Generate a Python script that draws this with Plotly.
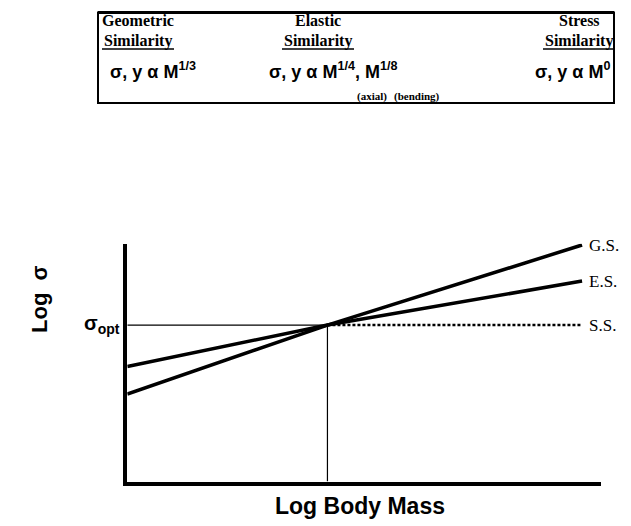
import plotly.graph_objects as go

W, H = 631, 526

# ---- data (log body mass vs log stress, arbitrary units) ----
log_mass = [0.0, 0.4225, 0.960]
gs_stress = [0.368, 0.658, 0.9945]   # geometric similarity
es_stress = [0.484, 0.658, 0.843]    # elastic similarity
ss_mass = [0.4225, 0.960]
ss_stress = [0.658, 0.658]           # stress similarity
sigma_opt = 0.658
mass_opt = 0.4225

curve_labels = ["G.S.", "E.S.", "S.S."]
headers = ["Geometric", "Elastic", "Stress"]
subheader = "Similarity"
formulas = ["σ, y α M<sup>1/3</sup>", "σ, y α M<sup>1/4</sup>, M<sup>1/8</sup>", "σ, y α M<sup>0</sup>"]
notes = ["(axial)", "(bending)"]


def px(x):
    return x / W


def py(y):
    return 1 - y / H


fig = go.Figure()
line_style = dict(color="black", width=3.5)
fig.add_trace(go.Scatter(x=log_mass, y=gs_stress, mode="lines", line=line_style, hoverinfo="skip"))
fig.add_trace(go.Scatter(x=log_mass, y=es_stress, mode="lines", line=line_style, hoverinfo="skip"))
fig.add_trace(go.Scatter(x=ss_mass, y=ss_stress, mode="lines",
                         line=dict(color="black", width=2.5, dash="3px,2px"), hoverinfo="skip"))
# reference lines
fig.add_trace(go.Scatter(x=[0, mass_opt], y=[sigma_opt, sigma_opt], mode="lines",
                         line=dict(color="black", width=1.2), hoverinfo="skip"))
fig.add_trace(go.Scatter(x=[mass_opt, mass_opt], y=[0, sigma_opt], mode="lines",
                         line=dict(color="black", width=1.2), hoverinfo="skip"))

serif = "Liberation Serif"
sans = "Liberation Sans"
ann = []
# curve labels at right end
for lab, yv in zip(curve_labels, [gs_stress[-1], es_stress[-1], ss_stress[-1]]):
    ann.append(dict(x=log_mass[-1], y=yv, xref="x", yref="y", text=lab, showarrow=False,
                    xanchor="left", yanchor="middle", xshift=5,
                    font=dict(family=serif, size=17, color="black")))
# sigma_opt label
ann.append(dict(x=0, y=sigma_opt, xref="x", yref="y",
                text="<b>σ<sub>opt</sub></b>", showarrow=False,
                xanchor="right", yanchor="middle", xshift=-5, yshift=1,
                font=dict(family=sans, size=20, color="black")))
# axis titles
ann.append(dict(x=px(31), y=py(291), xref="paper", yref="paper", text="<b>Log  σ</b>", textangle=-90,
                xanchor="center", yanchor="middle",
                showarrow=False, font=dict(family=sans, size=22, color="black")))
ann.append(dict(x=px(352), y=py(498), xref="paper", yref="paper", text="<b>Log Body Mass</b>",
                xanchor="center", yanchor="middle",
                showarrow=False, font=dict(family=sans, size=23, color="black")))

# table
col_x = [130, 310, 571]
form_x = [145, 325, 564]
for cx, h in zip(col_x, headers):
    ann.append(dict(x=px(cx), y=py(12.5), xref="paper", yref="paper", text="<b>" + h + "</b>",
                    xanchor="center", yanchor="middle",
                    showarrow=False, font=dict(family=serif, size=16, color="black")))
    ann.append(dict(x=px(cx), y=py(32.5), xref="paper", yref="paper", text="<b>" + subheader + "</b>",
                    xanchor="center", yanchor="middle",
                    showarrow=False, font=dict(family=serif, size=16, color="black")))
for fx, f in zip(form_x, formulas):
    ann.append(dict(x=px(fx), y=py(63), xref="paper", yref="paper", text="<b>" + f + "</b>",
                    xanchor="center", yanchor="middle",
                    showarrow=False, font=dict(family=sans, size=18, color="black")))
for nx, n in zip([364, 409], notes):
    ann.append(dict(x=px(nx), y=py(89), xref="paper", yref="paper", text="<b>" + n + "</b>",
                    xanchor="center", yanchor="middle",
                    showarrow=False, font=dict(family=serif, size=11, color="black")))

shapes = [dict(type="rect", xref="paper", yref="paper", x0=px(90), x1=px(606), y0=py(95), y1=py(4.5),
               line=dict(color="black", width=2)),
          dict(type="line", xref="paper", yref="paper", x0=px(90), x1=px(606), y0=py(4.5), y1=py(4.5),
               line=dict(color="black", width=3))]
for cx in col_x:
    shapes.append(dict(type="line", xref="paper", yref="paper", x0=px(cx - 36), x1=px(cx + 36),
                       y0=py(41), y1=py(41), line=dict(color="black", width=1.5)))

fig.update_layout(
    width=W, height=H, showlegend=False,
    margin=dict(l=0, r=0, t=0, b=0),
    paper_bgcolor="white", plot_bgcolor="white",
    xaxis=dict(domain=[px(119.3), px(593)], range=[0, 1], showline=True, linewidth=4, linecolor="black",
               showgrid=False, zeroline=False, showticklabels=False, ticks=""),
    yaxis=dict(domain=[py(473.6), py(235.7)], range=[0, 1], showline=True, linewidth=4, linecolor="black",
               showgrid=False, zeroline=False, showticklabels=False, ticks=""),
    annotations=ann, shapes=shapes,
)
fig.write_html("out.html")
